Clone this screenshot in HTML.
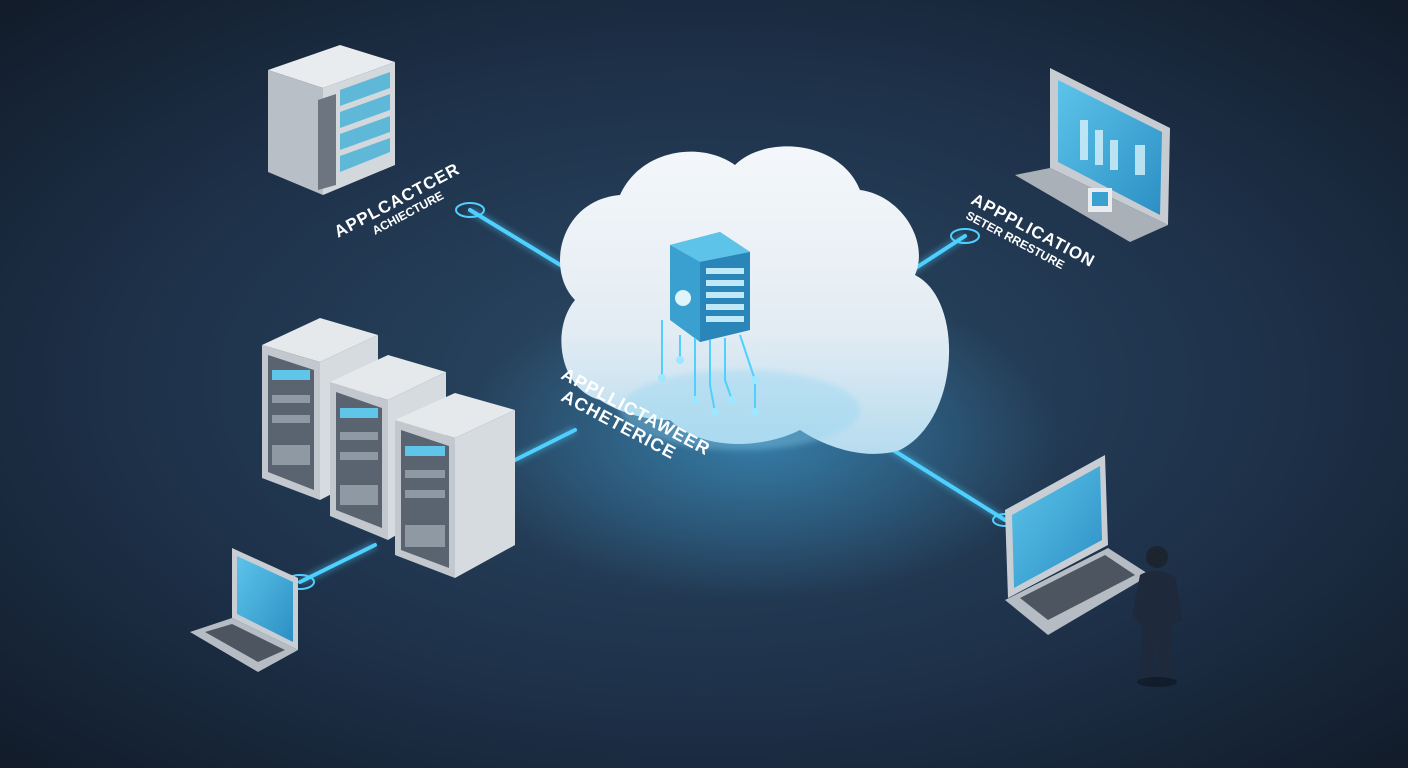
<!DOCTYPE html>
<html><head><meta charset="utf-8"><style>
html,body{margin:0;padding:0;background:#17253a;overflow:hidden}
svg{display:block}
text{font-family:"Liberation Sans",sans-serif;font-weight:bold;fill:#fff}
</style></head><body>
<svg width="1408" height="768" viewBox="0 0 1408 768" xmlns="http://www.w3.org/2000/svg">
<defs>
<radialGradient id="bg" cx="0.5" cy="0.5" r="0.7">
<stop offset="0" stop-color="#2c4a66"/><stop offset="0.6" stop-color="#1d3048"/><stop offset="1" stop-color="#121c2a"/>
</radialGradient>
<radialGradient id="glow" cx="0.5" cy="0.5" r="0.5">
<stop offset="0" stop-color="#3fa9e0" stop-opacity="0.55"/><stop offset="1" stop-color="#3fa9e0" stop-opacity="0"/>
</radialGradient>
<linearGradient id="cloud" x1="0" y1="0" x2="0" y2="1">
<stop offset="0" stop-color="#f4f7fa"/><stop offset="0.6" stop-color="#e3ecf3"/><stop offset="1" stop-color="#b6dcef"/>
</linearGradient>
<linearGradient id="scr" x1="0" y1="0" x2="1" y2="1">
<stop offset="0" stop-color="#5cc4ea"/><stop offset="1" stop-color="#2c8fc4"/>
</linearGradient>
<filter id="blur"><feGaussianBlur stdDeviation="3"/></filter>
</defs>
<rect width="1408" height="768" fill="url(#bg)"/>
<ellipse cx="760" cy="440" rx="300" ry="160" fill="url(#glow)"/>

<!-- connectors -->
<g stroke="#4fd0ff" stroke-width="4" stroke-linecap="round">
<line x1="470" y1="210" x2="562" y2="266"/>
<line x1="905" y1="275" x2="965" y2="236"/>
<line x1="515" y1="460" x2="575" y2="430"/>
<line x1="300" y1="582" x2="375" y2="545"/>
<line x1="885" y1="445" x2="1005" y2="520"/>
</g>
<g stroke="#4fd0ff" stroke-width="8" opacity="0.35" filter="url(#blur)">
<line x1="470" y1="210" x2="562" y2="266"/><line x1="905" y1="275" x2="965" y2="236"/>
<line x1="515" y1="460" x2="575" y2="430"/><line x1="300" y1="582" x2="375" y2="545"/>
<line x1="885" y1="445" x2="1005" y2="520"/>
</g>
<g fill="none" stroke="#4fd0ff" stroke-width="2">
<ellipse cx="470" cy="210" rx="14" ry="7"/><ellipse cx="965" cy="236" rx="14" ry="7"/>
<ellipse cx="300" cy="582" rx="14" ry="7"/><ellipse cx="1005" cy="520" rx="12" ry="6"/>
</g>

<!-- top-left server -->
<polygon points="268,70 340,45 395,62 323,88" fill="#e9ecef"/>
<polygon points="268,70 323,88 323,195 268,172" fill="#b9bfc6"/>
<polygon points="323,88 395,62 395,165 323,195" fill="#d3d8dd"/>
<g fill="#5fb8d8"><polygon points="340,90 390,72 390,88 340,106"/><polygon points="340,112 390,94 390,110 340,128"/><polygon points="340,134 390,116 390,132 340,150"/><polygon points="340,156 390,138 390,152 340,172"/></g>
<polygon points="318,100 336,94 336,185 318,190" fill="#6c7580"/>

<!-- cloud -->
<g>
<path d="M600,400 C560,390 550,330 575,300 C545,270 560,200 620,195 C640,150 700,140 735,165 C765,135 840,140 860,190 C900,195 930,240 915,275 C965,300 960,420 900,450 C870,460 830,450 800,430 C760,450 700,450 670,420 C640,420 615,410 600,400 Z" fill="url(#cloud)"/>
<ellipse cx="740" cy="410" rx="120" ry="40" fill="#8fd3f2" opacity="0.35" filter="url(#blur)"/>
</g>
<!-- chip -->
<polygon points="670,245 720,232 750,252 750,330 700,342 670,320" fill="#3aa0d0"/>
<polygon points="670,245 720,232 750,252 700,262" fill="#5ec3e8"/>
<polygon points="700,262 750,252 750,330 700,342" fill="#2a86b8"/>
<g fill="#bfe8f8"><rect x="706" y="268" width="38" height="6"/><rect x="706" y="280" width="38" height="6"/><rect x="706" y="292" width="38" height="6"/><rect x="706" y="304" width="38" height="6"/><rect x="706" y="316" width="38" height="6"/></g>
<circle cx="683" cy="298" r="8" fill="#dff4fb"/>
<g stroke="#4fd0ff" stroke-width="2" fill="none">
<path d="M662,320 V378"/><path d="M680,335 V360"/><path d="M695,338 V400"/><path d="M710,340 V385 L715,412"/><path d="M725,338 V380 L732,400"/><path d="M740,335 L755,380 V412"/>
</g>
<g fill="#9fe6ff"><circle cx="662" cy="378" r="4"/><circle cx="680" cy="360" r="4"/><circle cx="695" cy="400" r="4"/><circle cx="715" cy="412" r="4"/><circle cx="732" cy="400" r="4"/><circle cx="755" cy="412" r="4"/><circle cx="755" cy="380" r="4"/></g>

<!-- top-right monitor -->
<polygon points="1050,68 1170,128 1168,225 1050,168" fill="#c7ccd2"/>
<polygon points="1058,80 1162,132 1160,215 1058,162" fill="url(#scr)"/>
<g fill="#d8f2fb" opacity="0.8"><rect x="1080" y="120" width="8" height="40"/><rect x="1095" y="130" width="8" height="35"/><rect x="1110" y="140" width="8" height="30"/><rect x="1135" y="145" width="10" height="30"/></g>
<polygon points="1015,175 1050,168 1168,225 1130,242" fill="#a9b0b8"/>
<rect x="1088" y="188" width="24" height="24" fill="#e8ecef"/><rect x="1092" y="192" width="16" height="14" fill="#3aa0d0"/>

<!-- bottom-left servers -->
<g>
<polygon points="262,345 320,318 378,335 320,362" fill="#e6e9ec"/>
<polygon points="262,345 320,362 320,500 262,478" fill="#c2c8ce"/>
<polygon points="320,362 378,335 378,470 320,500" fill="#d6dbe0"/>
<polygon points="268,355 314,370 314,490 268,472" fill="#5a6470"/>
<polygon points="330,382 388,355 446,372 388,400" fill="#e6e9ec"/>
<polygon points="330,382 388,400 388,540 330,516" fill="#c2c8ce"/>
<polygon points="388,400 446,372 446,505 388,540" fill="#d6dbe0"/>
<polygon points="336,392 382,408 382,528 336,510" fill="#5a6470"/>
<polygon points="395,420 455,393 515,410 455,438" fill="#e6e9ec"/>
<polygon points="395,420 455,438 455,578 395,555" fill="#c2c8ce"/>
<polygon points="455,438 515,410 515,545 455,578" fill="#d6dbe0"/>
<polygon points="401,430 449,446 449,568 401,550" fill="#5a6470"/>
<g fill="#5fc6ea"><rect x="272" y="370" width="38" height="10"/><rect x="340" y="408" width="38" height="10"/><rect x="405" y="446" width="40" height="10"/></g>
<g fill="#8e99a4"><rect x="272" y="395" width="38" height="8"/><rect x="272" y="415" width="38" height="8"/><rect x="272" y="445" width="38" height="20"/><rect x="340" y="432" width="38" height="8"/><rect x="340" y="452" width="38" height="8"/><rect x="340" y="485" width="38" height="20"/><rect x="405" y="470" width="40" height="8"/><rect x="405" y="490" width="40" height="8"/><rect x="405" y="525" width="40" height="22"/></g>
</g>

<!-- bottom-left laptop -->
<polygon points="232,548 298,578 298,650 232,618" fill="#c9ced4"/>
<polygon points="237,556 293,582 293,642 237,614" fill="url(#scr)"/>
<polygon points="190,632 232,618 298,650 258,672" fill="#b5bcc3"/>
<polygon points="205,632 232,624 285,650 258,662" fill="#4d5560"/>

<!-- bottom-right laptop -->
<polygon points="1005,510 1105,455 1108,545 1008,598" fill="#c9ced4"/>
<polygon points="1012,515 1100,466 1102,540 1014,588" fill="url(#scr)"/>
<polygon points="1005,600 1108,548 1150,575 1048,635" fill="#b5bcc3"/>
<polygon points="1020,598 1105,555 1135,575 1048,620" fill="#4d5560"/>

<!-- person -->
<circle cx="1157" cy="557" r="11" fill="#1c2430"/>
<path d="M1140,575 Q1157,565 1176,578 L1182,620 L1172,625 L1170,678 L1158,678 L1156,640 L1152,680 L1140,680 L1142,625 L1132,615 Z" fill="#1e2a3c"/>
<ellipse cx="1157" cy="682" rx="20" ry="5" fill="#0e1520" opacity="0.6"/>

<!-- labels -->
<text x="0" y="0" font-size="17" transform="translate(338,238) rotate(-28)" letter-spacing="1">APPLCACTCER</text>
<text x="0" y="0" font-size="12" transform="translate(375,235) rotate(-28)">ACHIECTURE</text>
<text x="0" y="0" font-size="17" transform="translate(970,203) rotate(28)" letter-spacing="1">APPPLICATION</text>
<text x="0" y="0" font-size="12" transform="translate(965,218) rotate(28)">SETER RRESTURE</text>
<text x="0" y="0" font-size="18" transform="translate(560,378) rotate(28)" letter-spacing="1">APPLLICTAWEER</text>
<text x="0" y="0" font-size="18" transform="translate(560,400) rotate(28)" letter-spacing="1">ACHETERICE</text>
</svg>
</body></html>
